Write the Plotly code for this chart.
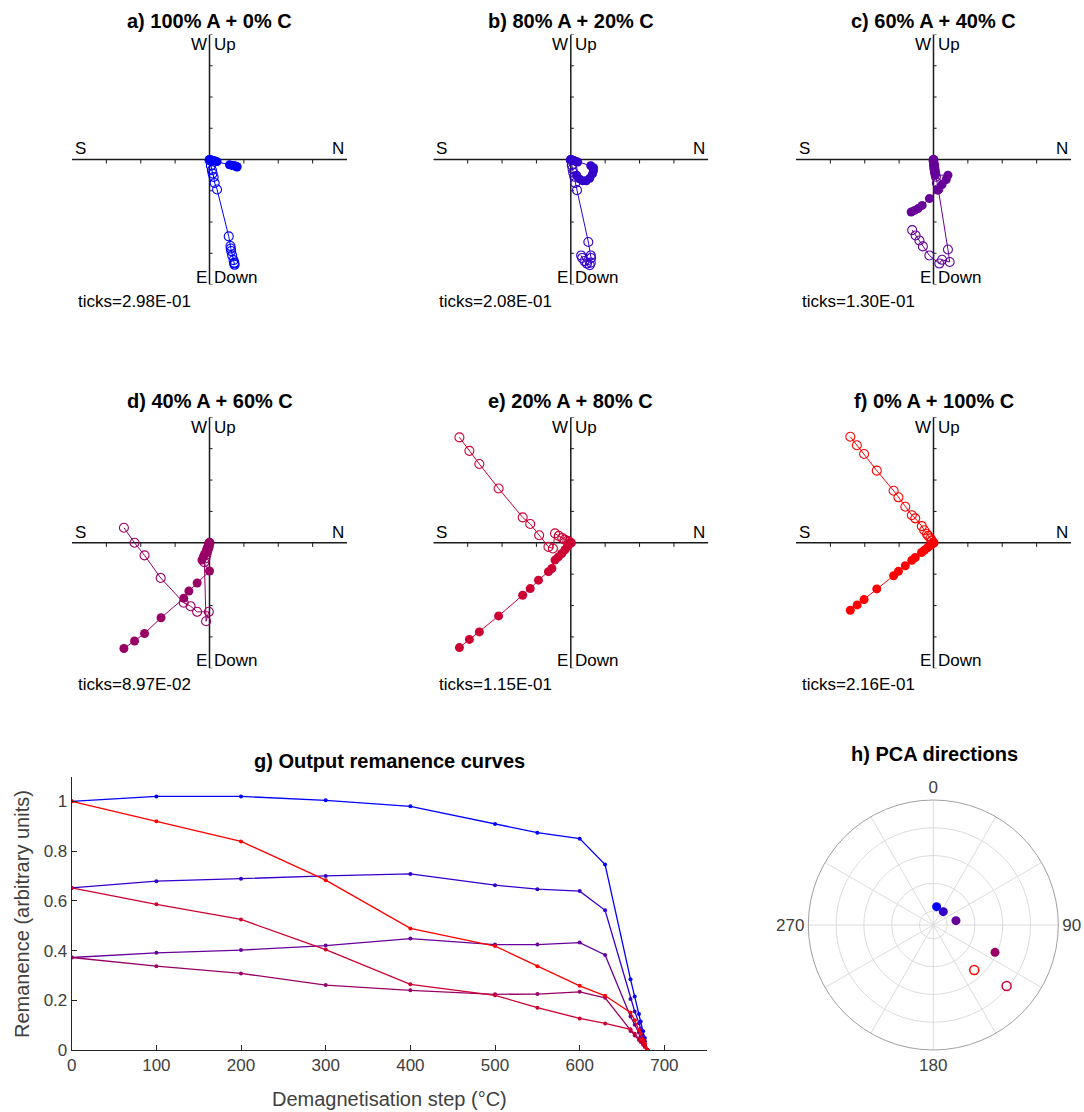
import plotly.graph_objects as go

W, H = 1084, 1112
FONT = "Liberation Sans, Arial, Helvetica, sans-serif"

# ---------------- data ----------------
panel_titles = ["a) 100% A + 0% C", "b) 80% A + 20% C", "c) 60% A + 40% C",
                "d) 40% A + 60% C", "e) 20% A + 80% C", "f) 0% A + 100% C"]
panel_ticks = ["ticks=2.98E-01", "ticks=2.08E-01", "ticks=1.30E-01",
               "ticks=8.97E-02", "ticks=1.15E-01", "ticks=2.16E-01"]
colors = ["#0000ff", "#3300cc", "#660099", "#990066", "#cc0033", "#ff0000"]

# Zijderveld points in tick units (filled = horizontal projection, open = vertical projection)
a_fill_x = [0.78, 0.80, 0.80, 0.78, 0.76, 0.71, 0.68, 0.66, 0.58, 0.22, 0.17, 0.12, 0.09, 0.06, 0.04, 0.0]
a_fill_y = [-0.22, -0.24, -0.23, -0.22, -0.21, -0.20, -0.19, -0.19, -0.17, -0.07, -0.05, -0.04, -0.03, -0.02, -0.01, 0.0]
a_open_x = [0.72, 0.73, 0.72, 0.70, 0.66, 0.63, 0.62, 0.61, 0.56, 0.22, 0.15, 0.12, 0.09, 0.07, 0.04, 0.0]
a_open_y = [-3.33, -3.37, -3.30, -3.22, -3.07, -2.93, -2.85, -2.77, -2.46, -0.96, -0.75, -0.56, -0.45, -0.34, -0.20, -0.02]

b_fill_x = [0.17, 0.25, 0.35, 0.45, 0.55, 0.63, 0.66, 0.66, 0.58, 0.20, 0.15, 0.10, 0.08, 0.05, 0.03, 0.0]
b_fill_y = [-0.50, -0.62, -0.68, -0.68, -0.60, -0.46, -0.36, -0.26, -0.20, -0.08, -0.06, -0.04, -0.03, -0.02, -0.01, 0.0]
b_open_x = [0.30, 0.33, 0.40, 0.47, 0.55, 0.58, 0.59, 0.58, 0.51, 0.18, 0.13, 0.10, 0.07, 0.05, 0.03, 0.0]
b_open_y = [-3.07, -3.15, -3.25, -3.33, -3.38, -3.30, -3.15, -3.07, -2.64, -0.98, -0.75, -0.55, -0.42, -0.30, -0.18, -0.02]

c_fill_x = [-0.65, -0.55, -0.45, -0.33, -0.12, 0.12, 0.25, 0.37, 0.42, 0.05, 0.03, 0.02, 0.01, 0.01, 0.0, 0.0]
c_fill_y = [-1.68, -1.63, -1.57, -1.47, -1.25, -0.98, -0.80, -0.64, -0.50, -0.50, -0.40, -0.30, -0.22, -0.14, -0.07, 0.0]
c_open_x = [-0.62, -0.52, -0.41, -0.31, -0.12, 0.17, 0.25, 0.47, 0.42, 0.14, 0.10, 0.07, 0.05, 0.03, 0.02, 0.0]
c_open_y = [-2.26, -2.43, -2.59, -2.78, -3.07, -3.33, -3.21, -3.28, -2.88, -0.95, -0.75, -0.55, -0.42, -0.30, -0.18, -0.02]

d_fill_x = [-2.49, -2.18, -1.89, -1.41, -0.75, -0.60, -0.36, 0.0, -0.22, -0.18, -0.15, -0.10, -0.08, -0.05, -0.02, 0.0]
d_fill_y = [-3.37, -3.13, -2.89, -2.39, -1.77, -1.54, -1.28, -0.90, -0.55, -0.45, -0.37, -0.28, -0.20, -0.12, -0.06, 0.0]
d_open_x = [-2.49, -2.18, -1.89, -1.42, -0.75, -0.55, -0.36, -0.02, -0.10, -0.15, -0.12, -0.09, -0.07, -0.04, -0.02, 0.0]
d_open_y = [0.48, 0.0, -0.40, -1.12, -1.91, -2.02, -2.20, -2.20, -2.50, -0.62, -0.50, -0.38, -0.28, -0.18, -0.10, 0.0]

e_fill_x = [-3.24, -2.95, -2.66, -2.10, -1.40, -1.18, -0.94, -0.65, -0.55, -0.46, -0.36, -0.26, -0.17, -0.10, -0.05, 0.0]
e_fill_y = [-3.34, -3.08, -2.84, -2.33, -1.67, -1.46, -1.19, -0.92, -0.82, -0.55, -0.45, -0.34, -0.22, -0.12, -0.05, 0.0]
e_open_x = [-3.24, -2.95, -2.66, -2.10, -1.40, -1.18, -0.92, -0.65, -0.52, -0.46, -0.35, -0.25, -0.18, -0.10, -0.05, 0.0]
e_open_y = [3.36, 2.93, 2.51, 1.73, 0.81, 0.60, 0.24, -0.13, -0.18, 0.30, 0.22, 0.15, 0.10, 0.06, 0.03, 0.0]

f_fill_x = [-2.42, -2.22, -2.02, -1.65, -1.16, -1.02, -0.82, -0.63, -0.53, -0.35, -0.27, -0.19, -0.15, -0.09, -0.05, 0.0]
f_fill_y = [-2.15, -1.98, -1.81, -1.47, -1.05, -0.91, -0.73, -0.56, -0.47, -0.31, -0.24, -0.17, -0.13, -0.08, -0.05, 0.0]
f_open_x = [-2.42, -2.23, -2.02, -1.65, -1.16, -1.02, -0.82, -0.63, -0.53, -0.34, -0.27, -0.19, -0.15, -0.09, -0.05, 0.0]
f_open_y = [3.38, 3.11, 2.83, 2.30, 1.66, 1.45, 1.15, 0.88, 0.78, 0.53, 0.40, 0.28, 0.22, 0.14, 0.07, 0.0]

# remanence curves
temps = [0, 100, 200, 300, 400, 500, 550, 600, 630, 660, 665, 670, 672, 675, 677, 680]
rem_a = [1.0, 1.02, 1.02, 1.004, 0.98, 0.909, 0.874, 0.85, 0.746, 0.285, 0.215, 0.145, 0.115, 0.075, 0.048, 0.0]
rem_b = [0.652, 0.679, 0.689, 0.700, 0.708, 0.663, 0.647, 0.639, 0.562, 0.205, 0.155, 0.108, 0.085, 0.056, 0.035, 0.0]
rem_c = [0.372, 0.391, 0.402, 0.420, 0.448, 0.424, 0.424, 0.432, 0.382, 0.135, 0.102, 0.070, 0.055, 0.036, 0.022, 0.0]
rem_d = [0.372, 0.337, 0.308, 0.261, 0.240, 0.224, 0.225, 0.234, 0.210, 0.076, 0.058, 0.040, 0.032, 0.021, 0.013, 0.0]
rem_e = [0.652, 0.586, 0.525, 0.404, 0.264, 0.220, 0.170, 0.127, 0.107, 0.083, 0.065, 0.045, 0.035, 0.022, 0.013, 0.0]
rem_f = [1.0, 0.920, 0.839, 0.683, 0.489, 0.418, 0.337, 0.258, 0.218, 0.151, 0.120, 0.080, 0.065, 0.040, 0.025, 0.0]

# PCA directions (polar: angle in degrees, radial coordinate on 0-90 scale)
pca_theta = [10.3, 36.9, 79.2, 113.9, 129.8, 137.7]
pca_r = [13.4, 12.0, 16.6, 48.6, 68.7, 43.8]
pca_filled = [True, True, True, True, False, False]

x_tick_vals = [0, 100, 200, 300, 400, 500, 600, 700]
y_tick_vals = [0, 0.2, 0.4, 0.6, 0.8, 1.0]
y_tick_text = ["0", "0.2", "0.4", "0.6", "0.8", "1"]
polar_labels = {0: "0", 90: "90", 180: "180", 270: "270"}

# ---------------- layout helpers ----------------
def dom_x(a, b):
    return [a / W, b / W]

def dom_y(top, bottom):
    return [1 - bottom / H, 1 - top / H]

fills = [(a_fill_x, a_fill_y), (b_fill_x, b_fill_y), (c_fill_x, c_fill_y),
         (d_fill_x, d_fill_y), (e_fill_x, e_fill_y), (f_fill_x, f_fill_y)]
opens = [(a_open_x, a_open_y), (b_open_x, b_open_y), (c_open_x, c_open_y),
         (d_open_x, d_open_y), (e_open_x, e_open_y), (f_open_x, f_open_y)]

col_px = [(72, 347), (433.3, 708.3), (796, 1071)]
row_px = [(34.5, 284.5), (417.3, 668.3)]
title_y_px = [20.5, 401.5]

fig = go.Figure()
layout = dict(template="none", width=W, height=H, autosize=False,
              margin=dict(l=0, r=0, t=0, b=0, pad=0, autoexpand=False),
              paper_bgcolor="white", plot_bgcolor="white", showlegend=False,
              font=dict(family=FONT, size=17, color="black"))
shapes, annotations = [], []

for i in range(6):
    k = i + 1
    r, c = divmod(i, 3)
    xa, ya = f"x{k}", f"y{k}"
    layout[f"xaxis{k}"] = dict(domain=dom_x(*col_px[c]), range=[-4, 4], visible=False,
                               anchor=ya, fixedrange=True, automargin=False)
    layout[f"yaxis{k}"] = dict(domain=dom_y(*row_px[r]), range=[-4, 4], visible=False,
                               anchor=xa, fixedrange=True, automargin=False)
    col = colors[i]
    fx, fy = fills[i]
    ox, oy = opens[i]
    fig.add_trace(go.Scatter(x=fx, y=fy, mode="lines+markers", xaxis=xa, yaxis=ya,
                             line=dict(color=col, width=1),
                             marker=dict(size=9, color=col, line=dict(width=0))))
    fig.add_trace(go.Scatter(x=ox, y=oy, mode="lines+markers", xaxis=xa, yaxis=ya,
                             line=dict(color=col, width=1),
                             marker=dict(size=9, color=col, symbol="circle-open",
                                         line=dict(width=1.1, color=col))))
    axis_line = dict(color="#1a1a1a", width=1.5)
    shapes.append(dict(type="line", xref=xa, yref=ya, x0=-4, x1=4, y0=0, y1=0, line=axis_line, layer="below"))
    shapes.append(dict(type="line", xref=xa, yref=ya, x0=0, x1=0, y0=-4, y1=4, line=axis_line, layer="below"))
    for t in [-3, -2, -1, 1, 2, 3]:
        shapes.append(dict(type="line", xref=xa, yref=ya, x0=t, x1=t, y0=0, y1=-0.13,
                           line=dict(color="#1a1a1a", width=1), layer="below"))
    for t in [-4, -3, -2, -1, 1, 2, 3, 4]:
        shapes.append(dict(type="line", xref=xa, yref=ya, x0=0, x1=0.09, y0=t, y1=t,
                           line=dict(color="#1a1a1a", width=1), layer="below"))
    lab = dict(xref=xa, yref=ya, showarrow=False, font=dict(size=17, color="black"))
    annotations += [
        dict(lab, text="S", x=-4, y=0, xanchor="left", yanchor="bottom", xshift=1, yshift=-1),
        dict(lab, text="N", x=4, y=0, xanchor="right", yanchor="bottom", xshift=-1, yshift=-1),
        dict(lab, text="W", x=0, y=4, xanchor="right", yanchor="top", xshift=-1, yshift=1),
        dict(lab, text="Up", x=0, y=4, xanchor="left", yanchor="top", xshift=2, yshift=1),
        dict(lab, text="E", x=0, y=-4, xanchor="right", yanchor="bottom", xshift=-1, yshift=-4),
        dict(lab, text="Down", x=0, y=-4, xanchor="left", yanchor="bottom", xshift=2, yshift=-4),
        dict(lab, text=panel_ticks[i], x=-4, y=-4, xanchor="left", yanchor="top", xshift=4, yshift=-5),
    ]
    cx = (col_px[c][0] + col_px[c][1]) / 2
    annotations.append(dict(xref="paper", yref="paper", x=cx / W, y=1 - title_y_px[r] / H,
                            xanchor="center", yanchor="middle", showarrow=False,
                            text="<b>" + panel_titles[i] + "</b>",
                            font=dict(size=20, color="black")))

# ---------------- g) remanence curves ----------------
rems = [rem_a, rem_b, rem_c, rem_d, rem_e, rem_f]
for i, rem in enumerate(rems):
    fig.add_trace(go.Scatter(x=temps, y=rem, mode="lines+markers", xaxis="x7", yaxis="y7",
                             line=dict(color=colors[i], width=1.3),
                             marker=dict(size=4, color=colors[i])))
axis_grey = "#262626"
layout["xaxis7"] = dict(domain=dom_x(71.7, 706.7), range=[0, 750], anchor="y7",
                        tickvals=x_tick_vals, ticks="inside", ticklen=5, tickcolor=axis_grey,
                        showline=True, linecolor=axis_grey, linewidth=1, showgrid=False,
                        zeroline=False, tickfont=dict(size=17, color="#404040"), fixedrange=True,
                        automargin=False)
layout["yaxis7"] = dict(domain=dom_y(776.5, 1050), range=[0, 1.1], anchor="x7",
                        tickvals=y_tick_vals, ticktext=y_tick_text, ticks="inside", ticklen=5,
                        tickcolor=axis_grey, showline=True, linecolor=axis_grey, linewidth=1,
                        showgrid=False, zeroline=False, tickfont=dict(size=17, color="#404040"),
                        fixedrange=True, automargin=False)
annotations += [
    dict(xref="paper", yref="paper", x=389 / W, y=1 - 761 / H, xanchor="center", yanchor="middle",
         showarrow=False, text="<b>g) Output remanence curves</b>", font=dict(size=20, color="black")),
    dict(xref="paper", yref="paper", x=389 / W, y=1 - 1099 / H, xanchor="center", yanchor="middle",
         showarrow=False, text="Demagnetisation step (°C)", font=dict(size=20, color="#404040")),
    dict(xref="paper", yref="paper", x=22 / W, y=1 - 914 / H, xanchor="center", yanchor="middle",
         showarrow=False, text="Remanence (arbitrary units)", textangle=-90,
         font=dict(size=20, color="#404040")),
]

# ---------------- h) PCA directions ----------------
for i in range(6):
    if pca_filled[i]:
        mk = dict(size=9, color=colors[i], line=dict(width=0))
    else:
        mk = dict(size=9, color=colors[i], symbol="circle-open", line=dict(width=1.5, color=colors[i]))
    fig.add_trace(go.Scatterpolar(r=[pca_r[i]], theta=[pca_theta[i]], mode="markers",
                                  marker=mk, subplot="polar"))
ang_vals = list(range(0, 360, 30))
layout["polar"] = dict(
    domain=dict(x=dom_x(808.3, 1058.3), y=dom_y(800, 1050)),
    bgcolor="white",
    angularaxis=dict(direction="clockwise", rotation=90, tickvals=ang_vals,
                     ticktext=[polar_labels.get(v, "") for v in ang_vals],
                     ticks="", showline=True, linecolor="#a0a0a0", linewidth=1,
                     showgrid=True, gridcolor="#dcdcdc", tickfont=dict(size=17, color="#404040")),
    radialaxis=dict(range=[0, 90], tickvals=[10, 30, 50, 70], showticklabels=False,
                    ticks="", showline=False, showgrid=True, gridcolor="#dcdcdc"),
)
annotations.append(dict(xref="paper", yref="paper", x=934 / W, y=1 - 754 / H, xanchor="center",
                        yanchor="middle", showarrow=False, text="<b>h) PCA directions</b>",
                        font=dict(size=20, color="black")))

layout["shapes"] = shapes
layout["annotations"] = annotations
fig.update_layout(**layout)
fig.write_html("out.html", include_plotlyjs=True, config={"staticPlot": True})
